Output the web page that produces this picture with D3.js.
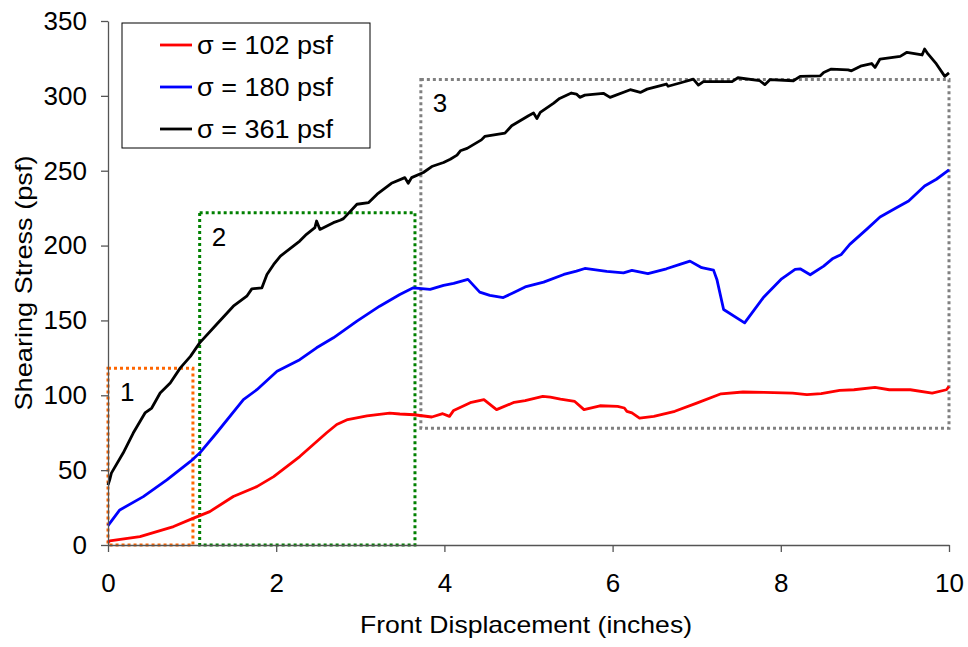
<!DOCTYPE html>
<html><head><meta charset="utf-8">
<script src="https://cdn.jsdelivr.net/npm/d3@7"></script>
<style>body{margin:0;background:#fff}svg{display:block}text{font-family:Arial,"Liberation Sans",sans-serif}</style>
</head><body>
<svg id="c" width="968" height="647"></svg>
<script>
const seriesNames = ["σ = 102 psf", "σ = 180 psf", "σ = 361 psf"];
const seriesColors = ["#ff0000", "#0000ff", "#000000"];
const xTicks = [0, 2, 4, 6, 8, 10];
const yTicks = [0, 50, 100, 150, 200, 250, 300, 350];

const red102 = [[0,2],[0.02,2.7],[0.38,5.6],[0.78,12.3],[1.01,17.8],[1.21,22.3],[1.49,32.4],[1.77,39],[1.97,45.7],[2.28,59.1],[2.6,75],[2.72,80.5],[2.85,83.8],[3.08,86.2],[3.35,88.1],[3.47,87.5],[3.64,87],[3.85,85.5],[3.98,87.7],[4.06,85.9],[4.11,89.9],[4.32,95.3],[4.47,97.1],[4.62,90.4],[4.83,95.3],[4.96,96.4],[5.17,99.3],[5.26,98.8],[5.38,97.5],[5.55,95.9],[5.66,90.4],[5.85,93],[6.06,92.6],[6.14,91.5],[6.17,89.3],[6.23,88.2],[6.32,84.8],[6.49,85.9],[6.74,89.3],[7.0,94.8],[7.29,101],[7.55,102.2],[7.8,101.9],[8.14,101.5],[8.31,100.4],[8.48,101.1],[8.7,103.3],[8.87,103.7],[9.12,105.3],[9.29,103.7],[9.54,103.7],[9.8,101.5],[9.97,103.7],[10,106]];
const blue180 = [[0,13],[0.02,14.5],[0.14,23.4],[0.42,32.3],[0.7,43.5],[0.98,55.8],[1.09,61.4],[1.29,74.8],[1.61,97.1],[1.77,103.7],[2.01,116],[2.28,123.8],[2.48,131.7],[2.68,138.4],[2.96,149.5],[3.23,159.5],[3.47,167.3],[3.63,171.8],[3.83,170.7],[3.99,173.4],[4.11,174.7],[4.28,177.4],[4.42,168.9],[4.54,166.7],[4.7,165.3],[4.82,168.5],[4.96,172.4],[5.18,175.6],[5.42,180.7],[5.57,182.9],[5.67,184.7],[5.93,182.7],[6.13,181.8],[6.23,183.4],[6.42,181.2],[6.64,184.5],[6.8,187.4],[6.92,189.6],[7.06,185.2],[7.2,183.6],[7.24,177.4],[7.32,157.3],[7.57,148.4],[7.79,165.1],[8.01,177.8],[8.17,184.1],[8.23,184.5],[8.35,180.5],[8.51,186.3],[8.62,191.4],[8.72,194.1],[8.82,200.8],[9.02,210.8],[9.18,219.1],[9.38,225.4],[9.52,229.8],[9.71,239.8],[9.85,244.3],[10,250.5]];
const black361 = [[0,40],[0.02,43.5],[0.04,48],[0.18,61.4],[0.3,74.8],[0.44,88.2],[0.52,91.5],[0.62,101.5],[0.74,108.2],[0.86,118.3],[0.98,126],[1.09,135],[1.29,147.3],[1.49,159.5],[1.65,166.2],[1.71,171.1],[1.83,171.8],[1.89,180.7],[1.97,187.4],[2.05,193],[2.18,198.6],[2.28,203],[2.36,207.5],[2.46,212],[2.48,216.4],[2.52,210.8],[2.68,215.3],[2.76,216.9],[2.8,218],[2.96,227.6],[3.1,228.7],[3.2,234.3],[3.37,241.6],[3.53,245.4],[3.57,241.6],[3.61,245.4],[3.75,248.8],[3.85,252.8],[3.99,255.5],[4.07,257.7],[4.15,260.4],[4.19,263.3],[4.27,264.9],[4.44,270.6],[4.48,272.9],[4.72,275.1],[4.8,280],[5.0,286.7],[5.06,288.5],[5.1,284.9],[5.14,289],[5.3,295.2],[5.37,298.3],[5.51,301.9],[5.57,301.2],[5.61,299],[5.67,300.5],[5.89,301.7],[5.97,299],[6.21,304.1],[6.33,302.3],[6.41,304.5],[6.64,307.9],[6.66,306.4],[6.8,308.6],[6.96,311.2],[7.02,307.2],[7.08,309.5],[7.42,309.5],[7.49,312.1],[7.75,310.1],[7.81,307.5],[7.87,310.8],[8.15,310.1],[8.23,313],[8.47,313.4],[8.51,315.6],[8.6,317.9],[8.8,317.4],[8.84,316.7],[8.96,320.1],[9.08,321.6],[9.12,319],[9.18,324.6],[9.42,326.4],[9.5,329.1],[9.68,327.3],[9.71,331.3],[9.75,328],[9.85,321.3],[9.95,313],[10,315.3]];
const seriesData = [red102, blue180, black361];

// Highlight boxes: [x0, x1, y0, y1] in data units
const boxLabels = ["1", "2", "3"];
const boxColors = ["#ff6600", "#008000", "#808080"];
const boxRanges = [[0, 1.01, 0, 118], [1.09, 3.65, 0, 222], [3.72, 10, 78, 311]];

const svg = d3.select("#c");
const L = 108, R = 949, T = 21, B = 545;
const x = d3.scaleLinear().domain([0, 10]).range([L, R]);
const y = d3.scaleLinear().domain([0, 350]).range([B, T]);

// boxes
boxRanges.forEach((b, i) => {
  svg.append("rect")
    .attr("x", x(b[0])).attr("y", y(b[3]))
    .attr("width", x(b[1]) - x(b[0])).attr("height", y(b[2]) - y(b[3]))
    .attr("fill", "none").attr("stroke", boxColors[i])
    .attr("stroke-width", 3).attr("stroke-dasharray", "3,3");
  svg.append("text")
    .attr("x", x(b[0]) + 12).attr("y", y(b[3]) + 33)
    .attr("font-size", 26).attr("fill", "#000").text(boxLabels[i]);
});

// lines
const line = d3.line().x(d => x(d[0])).y(d => y(d[1]));
seriesData.forEach((s, i) => {
  svg.append("path").datum(s).attr("d", line)
    .attr("fill", "none").attr("stroke", seriesColors[i])
    .attr("stroke-width", 2.8).attr("stroke-linejoin", "round");
});

// axes
const yAxis = svg.append("g").attr("transform", `translate(${L},0)`)
  .call(d3.axisLeft(y).tickValues(yTicks).tickSize(7).tickPadding(14).tickSizeOuter(0));
const xAxis = svg.append("g").attr("transform", `translate(0,${B})`)
  .call(d3.axisBottom(x).tickValues(xTicks).tickSize(7).tickPadding(22).tickSizeOuter(0));
[xAxis, yAxis].forEach(a => {
  a.selectAll("path,line").attr("stroke", "#555").attr("stroke-width", 1.3);
  a.selectAll("text").attr("font-size", 26).attr("fill", "#000")
    .attr("font-family", "Arial, 'Liberation Sans', sans-serif");
});

svg.append("text").attr("x", 526).attr("y", 633)
  .attr("text-anchor", "middle").attr("font-size", 24)
  .attr("textLength", 332).attr("lengthAdjust", "spacingAndGlyphs")
  .text("Front Displacement (inches)");
svg.append("text").attr("transform", `translate(32,283) rotate(-90)`)
  .attr("text-anchor", "middle").attr("font-size", 24)
  .attr("textLength", 255).attr("lengthAdjust", "spacingAndGlyphs")
  .text("Shearing Stress (psf)");

// legend
const lg = svg.append("g");
lg.append("rect").attr("x", 122).attr("y", 23).attr("width", 248).attr("height", 125)
  .attr("fill", "#fff").attr("stroke", "#000").attr("stroke-width", 1);
seriesNames.forEach((n, i) => {
  const cy = 45 + i * 42;
  lg.append("line").attr("x1", 160).attr("x2", 192).attr("y1", cy).attr("y2", cy)
    .attr("stroke", seriesColors[i]).attr("stroke-width", 2.8);
  lg.append("text").attr("x", 197).attr("y", cy + 9).attr("font-size", 25)
    .attr("textLength", 136).attr("lengthAdjust", "spacingAndGlyphs").text(n);
});
</script>
</body></html>
